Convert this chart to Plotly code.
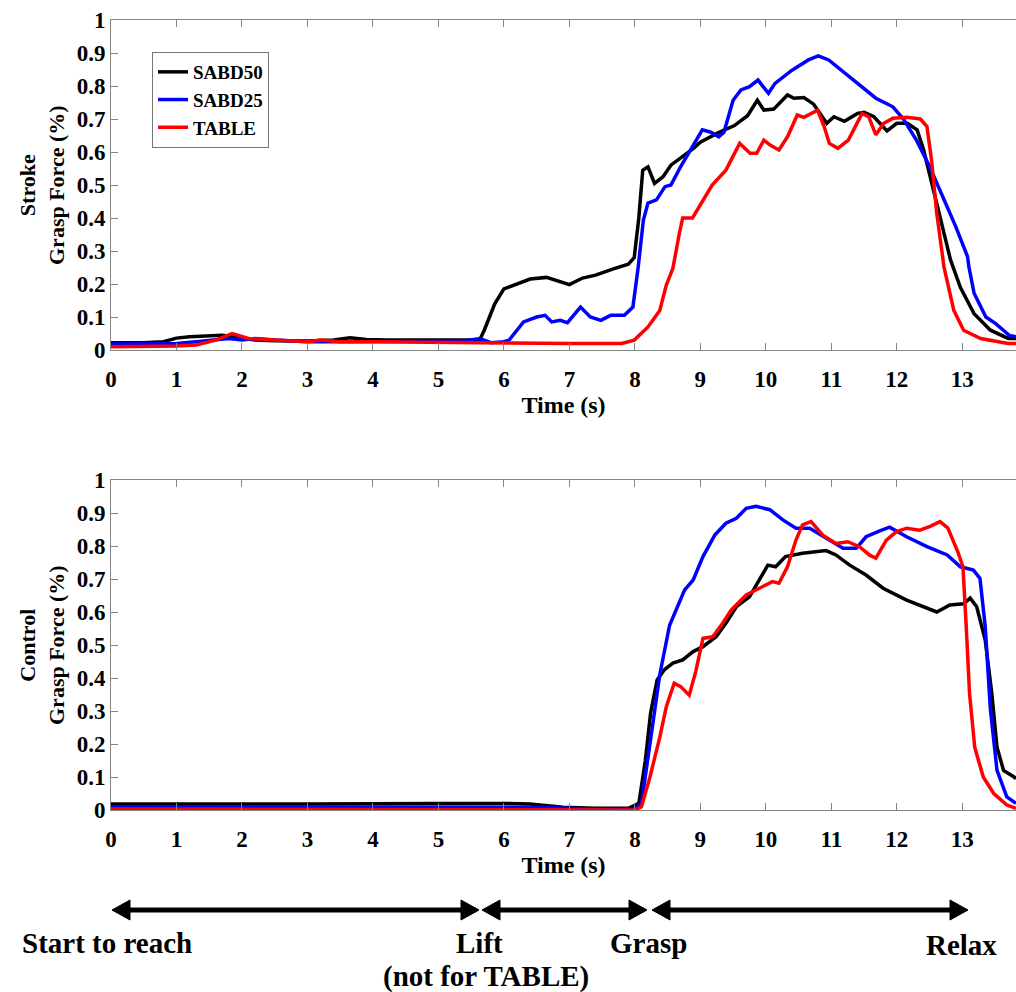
import plotly.graph_objects as go

# ---------------- data ----------------
x_ticks = list(range(0, 14))
y_ticks = [0, 0.1, 0.2, 0.3, 0.4, 0.5, 0.6, 0.7, 0.8, 0.9, 1]
y_ticktext = ["0", "0.1", "0.2", "0.3", "0.4", "0.5", "0.6", "0.7", "0.8", "0.9", "1"]
series_names = ["SABD50", "SABD25", "TABLE"]

# Stroke (top panel)
stroke_sabd50_t = [0, 0.5, 0.8, 1.0, 1.2, 1.5, 1.7, 1.85, 2.0, 2.2, 2.5, 3.0, 3.4, 3.65, 3.9, 4.2, 4.6, 5.0, 5.4, 5.63,
                   5.7, 5.86, 6.0, 6.2, 6.4, 6.65, 6.85, 7.0, 7.2, 7.4, 7.66, 7.9, 7.99, 8.06, 8.12, 8.2, 8.3, 8.43, 8.55,
                   8.89, 9.0, 9.26, 9.52, 9.72, 9.87, 9.97, 10.12, 10.33, 10.43, 10.58, 10.73, 10.83, 10.93, 11.04, 11.2,
                   11.4, 11.5, 11.65, 11.85, 12.0, 12.16, 12.31, 12.41, 12.51, 12.67, 12.82, 12.97, 13.18, 13.43, 13.7, 13.82]
stroke_sabd50_v = [0.022, 0.022, 0.025, 0.036, 0.04, 0.042, 0.045, 0.04, 0.035, 0.03, 0.028, 0.027, 0.03, 0.037, 0.032,
                   0.03, 0.03, 0.03, 0.03, 0.03, 0.06, 0.14, 0.185, 0.2, 0.215, 0.22, 0.207, 0.198, 0.218, 0.227, 0.245,
                   0.26, 0.28, 0.40, 0.545, 0.555, 0.505, 0.525, 0.56, 0.61, 0.63, 0.657, 0.68, 0.71, 0.757, 0.727, 0.73,
                   0.773, 0.763, 0.765, 0.745, 0.717, 0.687, 0.707, 0.693, 0.717, 0.72, 0.707, 0.664, 0.687, 0.687, 0.667,
                   0.606, 0.525, 0.394, 0.273, 0.19, 0.11, 0.06, 0.035, 0.035]

stroke_sabd25_t = [0, 0.5, 1.0, 1.3, 1.5, 1.8, 2.0, 2.2, 2.5, 3.0, 3.5, 4.0, 4.5, 5.0, 5.4, 5.63, 5.8, 6.0, 6.08, 6.3,
                   6.5, 6.63, 6.73, 6.86, 6.97, 7.17, 7.32, 7.48, 7.63, 7.84, 7.97, 8.05, 8.13, 8.2, 8.33, 8.46, 8.55, 8.7,
                   8.9, 9.03, 9.16, 9.28, 9.36, 9.5, 9.62, 9.75, 9.88, 9.96, 10.04, 10.14, 10.4, 10.65, 10.8, 10.96, 11.22,
                   11.47, 11.68, 11.94, 12.1, 12.3, 12.5, 12.7, 12.9, 13.08, 13.1, 13.18, 13.36, 13.51, 13.72, 13.82]
stroke_sabd25_v = [0.018, 0.018, 0.02, 0.025, 0.03, 0.035, 0.03, 0.035, 0.03, 0.025, 0.025, 0.025, 0.025, 0.025, 0.027,
                   0.035, 0.022, 0.025, 0.03, 0.085, 0.1, 0.105, 0.085, 0.09, 0.083, 0.13, 0.1, 0.09, 0.105, 0.105, 0.13,
                   0.25, 0.394, 0.445, 0.455, 0.495, 0.5, 0.556, 0.626, 0.667, 0.66, 0.646, 0.66, 0.757, 0.788, 0.798,
                   0.818, 0.798, 0.778, 0.808, 0.848, 0.879, 0.891, 0.879, 0.838, 0.798, 0.763, 0.737, 0.7, 0.636, 0.556,
                   0.465, 0.374, 0.283, 0.253, 0.172, 0.1, 0.08, 0.044, 0.04]

stroke_table_t = [0, 0.5, 1.0, 1.3, 1.6, 1.85, 2.1, 2.5, 3.0, 3.2, 3.5, 4.0, 5.0, 6.0, 7.0, 7.8, 7.99, 8.2, 8.38, 8.48,
                  8.58, 8.68, 8.73, 8.88, 8.98, 9.18, 9.39, 9.6, 9.76, 9.86, 9.97, 10.07, 10.2, 10.33, 10.48, 10.58,
                  10.79, 10.89, 10.97, 11.1, 11.26, 11.47, 11.57, 11.68, 11.8, 11.94, 12.15, 12.36, 12.46, 12.53, 12.61,
                  12.72, 12.87, 13.02, 13.28, 13.7, 13.82]
stroke_table_v = [0.01, 0.01, 0.012, 0.015, 0.03, 0.05, 0.035, 0.03, 0.025, 0.03, 0.025, 0.025, 0.023, 0.02, 0.02, 0.02,
                  0.03, 0.07, 0.12, 0.197, 0.247, 0.354, 0.40, 0.40, 0.434, 0.5, 0.545, 0.626, 0.596, 0.596, 0.636, 0.62,
                  0.606, 0.646, 0.712, 0.705, 0.727, 0.677, 0.626, 0.611, 0.636, 0.717, 0.707, 0.652, 0.687, 0.702, 0.705,
                  0.7, 0.677, 0.576, 0.414, 0.252, 0.12, 0.06, 0.035, 0.02, 0.02]

# Control (bottom panel)
control_sabd50_t = [0, 1, 2, 3, 4, 5, 6, 6.4, 6.9, 7.4, 7.9, 8.06, 8.16, 8.24, 8.34, 8.45, 8.58, 8.73, 8.89, 9.04, 9.24,
                    9.39, 9.55, 9.75, 9.9, 10.03, 10.15, 10.3, 10.56, 10.92, 11.07, 11.28, 11.53, 11.79, 12.15, 12.46,
                    12.61, 12.81, 13.02, 13.12, 13.22, 13.35, 13.45, 13.53, 13.63, 13.79, 13.82]
control_sabd50_v = [0.018, 0.017, 0.018, 0.018, 0.02, 0.02, 0.02, 0.018, 0.008, 0.005, 0.005, 0.02, 0.15, 0.294, 0.394,
                    0.425, 0.445, 0.455, 0.48, 0.495, 0.525, 0.566, 0.616, 0.646, 0.697, 0.742, 0.737, 0.768, 0.778, 0.786,
                    0.773, 0.742, 0.712, 0.672, 0.636, 0.611, 0.6, 0.621, 0.625, 0.642, 0.616, 0.515, 0.354, 0.19, 0.12,
                    0.1, 0.095]

control_sabd25_t = [0, 2, 4, 6, 6.5, 7.0, 7.5, 8.0, 8.1, 8.23, 8.38, 8.53, 8.76, 8.89, 9.04, 9.22, 9.39, 9.55, 9.7, 9.85,
                    10.06, 10.26, 10.46, 10.67, 10.92, 11.18, 11.38, 11.53, 11.74, 11.89, 12.15, 12.46, 12.77, 12.97,
                    13.17, 13.27, 13.35, 13.43, 13.53, 13.68, 13.82]
control_sabd25_v = [0.01, 0.01, 0.01, 0.01, 0.008, 0.005, 0.002, 0.002, 0.02, 0.2, 0.41, 0.56, 0.667, 0.697, 0.768, 0.833,
                    0.869, 0.884, 0.914, 0.92, 0.91, 0.879, 0.854, 0.854, 0.823, 0.793, 0.793, 0.828, 0.846, 0.857, 0.828,
                    0.798, 0.773, 0.737, 0.727, 0.702, 0.556, 0.303, 0.12, 0.04, 0.02]

control_table_t = [0, 2, 4, 6, 8.0, 8.1, 8.23, 8.38, 8.48, 8.6, 8.7, 8.83, 8.93, 9.04, 9.19, 9.34, 9.47, 9.7, 9.9, 10.1,
                   10.2, 10.33, 10.46, 10.56, 10.69, 10.87, 11.07, 11.25, 11.43, 11.58, 11.68, 11.84, 11.99, 12.15, 12.35,
                   12.5, 12.66, 12.78, 12.93, 13.01, 13.06, 13.11, 13.19, 13.32, 13.48, 13.68, 13.82]
control_table_v = [0.003, 0.002, 0.002, 0.002, 0.0, 0.01, 0.1, 0.22, 0.313, 0.384, 0.374, 0.348, 0.42, 0.52, 0.525, 0.566,
                   0.606, 0.652, 0.672, 0.692, 0.687, 0.737, 0.818, 0.864, 0.874, 0.833, 0.808, 0.813, 0.798, 0.773, 0.763,
                   0.818, 0.843, 0.854, 0.848, 0.859, 0.874, 0.854, 0.783, 0.737, 0.556, 0.354, 0.19, 0.1, 0.05, 0.015,
                   0.005]

phase_labels = ["Start to reach", "Lift", "(not for TABLE)", "Grasp", "Relax"]

# ---------------- styling ----------------
FONT = "Liberation Serif"
COLORS = ["#000000", "#0000ff", "#ff0000"]
AX_COLOR = "#858585"
W, H = 1016, 992
# plot area in screen pixels
PL, PR, PT, PB = 111, 1016, 20, 810
L, R, T, B = PL, W - PR, PT, H - PB


def X(px):
    return (px - PL) / (PR - PL)


def Y(py):
    return (PB - py) / (PB - PT)


fig = go.Figure()

top = [(stroke_sabd50_t, stroke_sabd50_v), (stroke_sabd25_t, stroke_sabd25_v), (stroke_table_t, stroke_table_v)]
bot = [(control_sabd50_t, control_sabd50_v), (control_sabd25_t, control_sabd25_v), (control_table_t, control_table_v)]

for i, (t, v) in enumerate(top):
    fig.add_trace(go.Scatter(x=t, y=v, mode="lines", name=series_names[i],
                             line=dict(color=COLORS[i], width=3.5), xaxis="x", yaxis="y"))
for i, (t, v) in enumerate(bot):
    fig.add_trace(go.Scatter(x=t, y=v, mode="lines", name=series_names[i], showlegend=False,
                             line=dict(color=COLORS[i], width=3.5), xaxis="x2", yaxis="y2"))

tickfont = dict(family=FONT, size=23, color="black", weight="bold")
xcommon = dict(range=[0, 13.82], tickvals=x_ticks, ticks="inside", ticklen=7, tickcolor=AX_COLOR,
               showline=True, linecolor=AX_COLOR, linewidth=1, mirror="ticks", showgrid=False, zeroline=False,
               tickfont=tickfont, ticklabelstandoff=8,
               title=dict(text="Time (s)", font=dict(family=FONT, size=24, color="black", weight="bold"), standoff=2))
ycommon = dict(range=[0, 1], tickvals=y_ticks, ticktext=y_ticktext, ticks="inside", ticklen=7, tickcolor=AX_COLOR,
               showline=True, linecolor=AX_COLOR, linewidth=1, mirror=False, showgrid=False, zeroline=False,
               tickfont=tickfont)

top_dom = [Y(350), 1]
bot_dom = [0, Y(480)]

fig.update_layout(
    width=W, height=H,
    margin=dict(l=L, r=R, t=T, b=B, autoexpand=False),
    paper_bgcolor="white", plot_bgcolor="white",
    xaxis=dict(anchor="y", **xcommon),
    yaxis=dict(anchor="x", domain=top_dom, **ycommon),
    xaxis2=dict(anchor="y2", **xcommon),
    yaxis2=dict(anchor="x2", domain=bot_dom, **ycommon),
    legend=dict(x=X(152), y=Y(52), xanchor="left", yanchor="top", bgcolor="white",
                bordercolor="#777777", borderwidth=1,
                font=dict(family=FONT, size=19, color="black", weight="bold"),
                itemwidth=30, tracegroupgap=0),
    showlegend=True,
)

# y-axis titles
for text, cy in [("Stroke<br>Grasp Force (%)", 185), ("Control<br>Grasp Force (%)", 645)]:
    fig.add_annotation(text=text, x=X(42), y=Y(cy), xref="paper", yref="paper", showarrow=False,
                       textangle=-90, xanchor="center", yanchor="middle",
                       font=dict(family=FONT, size=22, color="black", weight="bold"))

# phase arrows
ARROW_Y = 910
HEAD_L, HEAD_H = 18, 10
for x0, x1 in [(112, 479), (482, 647), (652, 968)]:
    fig.add_shape(type="line", xref="paper", yref="paper", x0=X(x0 + 8), x1=X(x1 - 8), y0=Y(ARROW_Y), y1=Y(ARROW_Y),
                  line=dict(color="black", width=5))
    for tip, base in [(x0, x0 + HEAD_L), (x1, x1 - HEAD_L)]:
        path = (f"M {X(tip)},{Y(ARROW_Y)} L {X(base)},{Y(ARROW_Y - HEAD_H)} "
                f"L {X(base)},{Y(ARROW_Y + HEAD_H)} Z")
        fig.add_shape(type="path", xref="paper", yref="paper", path=path,
                      fillcolor="black", line=dict(color="black", width=1))

label_pos = [(107, 943), (479, 943), (486, 976), (648, 943), (961, 945)]
for text, (cx, cy) in zip(phase_labels, label_pos):
    fig.add_annotation(text=text, x=X(cx), y=Y(cy), xref="paper", yref="paper", showarrow=False,
                       xanchor="center", yanchor="middle",
                       font=dict(family=FONT, size=29, color="black", weight="bold"))

fig.write_html("out.html", config={"displayModeBar": False},
               post_script="document.body.style.margin='0px';document.body.style.overflow='hidden';")
